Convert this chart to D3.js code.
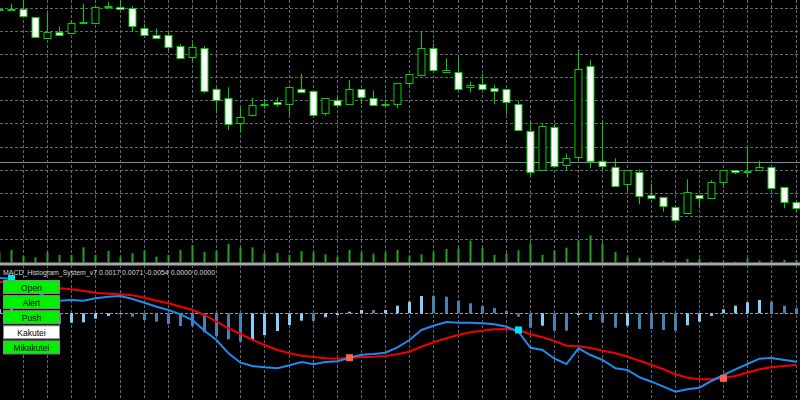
<!DOCTYPE html>
<html><head><meta charset="utf-8">
<script src="https://cdn.jsdelivr.net/npm/d3@7"></script>
<style>html,body{margin:0;padding:0;background:#000;overflow:hidden}</style>
</head><body><svg id="c" width="800" height="400"></svg>
<script>
// ---- data (bar index -1 .. 65) ----
const barIndex = d3.range(-1, 66);
const open = [1.31540,1.31540,1.31543,1.31457,1.31243,1.31307,1.31297,1.31410,1.31407,1.31570,1.31563,1.31547,1.31347,1.31283,1.31277,1.31167,1.31060,1.31153,1.30740,1.30647,1.30403,1.30477,1.30590,1.30607,1.30583,1.30740,1.30717,1.30497,1.30633,1.30587,1.30737,1.30653,1.30587,1.30587,1.30797,1.30873,1.31147,1.30907,1.30913,1.30757,1.30787,1.30753,1.30740,1.30590,1.30323,1.29930,1.30365,1.29980,1.30057,1.30970,1.30020,1.29963,1.29787,1.29913,1.29680,1.29657,1.29557,1.29503,1.29683,1.29653,1.29807,1.29930,1.29923,1.29937,1.29963,1.29757,1.29613];
const high = [1.31545,1.31590,1.31640,1.31457,1.31507,1.31363,1.31430,1.31590,1.31575,1.31610,1.31630,1.31570,1.31387,1.31347,1.31303,1.31190,1.31197,1.31170,1.30757,1.30757,1.30557,1.30653,1.30640,1.30657,1.30757,1.30890,1.30717,1.30647,1.30653,1.30830,1.30737,1.30727,1.30637,1.30797,1.30890,1.31307,1.31190,1.31047,1.31057,1.30813,1.30890,1.30780,1.30740,1.30623,1.30413,1.30390,1.30390,1.30097,1.31137,1.31030,1.30423,1.30047,1.29930,1.29937,1.29790,1.29657,1.29557,1.29837,1.29683,1.29830,1.29930,1.29930,1.30157,1.30023,1.29963,1.29757,1.29613];
const low = [1.31530,1.31530,1.31470,1.31257,1.31243,1.31280,1.31297,1.31397,1.31407,1.31540,1.31530,1.31313,1.31273,1.31257,1.31130,1.31043,1.31020,1.30697,1.30497,1.30330,1.30307,1.30477,1.30543,1.30563,1.30480,1.30713,1.30463,1.30473,1.30587,1.30587,1.30590,1.30570,1.30580,1.30547,1.30770,1.30873,1.30903,1.30907,1.30747,1.30703,1.30737,1.30587,1.30487,1.30330,1.29863,1.29930,1.29953,1.29930,1.30030,1.29947,1.29930,1.29777,1.29723,1.29587,1.29647,1.29513,1.29430,1.29503,1.29547,1.29653,1.29773,1.29890,1.29857,1.29937,1.29753,1.29547,1.29513];
const close = [1.31537,1.31537,1.31470,1.31257,1.31307,1.31280,1.31397,1.31408,1.31563,1.31568,1.31543,1.31363,1.31273,1.31257,1.31153,1.31043,1.31157,1.30727,1.30630,1.30390,1.30460,1.30577,1.30587,1.30583,1.30757,1.30713,1.30480,1.30647,1.30587,1.30737,1.30653,1.30580,1.30585,1.30797,1.30890,1.31147,1.30923,1.30930,1.30747,1.30780,1.30737,1.30723,1.30607,1.30330,1.29910,1.30370,1.29973,1.30047,1.30937,1.30023,1.29973,1.29777,1.29930,1.29673,1.29647,1.29567,1.29430,1.29713,1.29657,1.29810,1.29930,1.29913,1.29921,1.29963,1.29753,1.29607,1.29557];
const volume = [1000,1270,670,530,1000,770,770,1530,770,1170,600,930,1200,600,770,1270,1770,1070,1170,1870,1530,1530,930,970,770,1170,1000,830,570,1270,1000,900,1000,1270,670,830,1030,1370,1430,2200,1470,770,930,1230,1930,770,1200,1500,2200,2730,1930,1070,600,470,270,170,170,370,400,100,100,100,430,200,270,270,270];
const gridPrices = [1.31545,1.31314,1.31085,1.30853,1.30623,1.30390,1.30157,1.29928,1.29697,1.29465,1.29235];
const priceLine = 1.30005;

// MACD subwindow (pips)
const macd = [3.53,3.43,2.80,2.20,1.60,1.26,1.33,1.26,1.50,1.66,1.73,1.43,1.06,0.66,0.33,-0.10,-0.67,-1.74,-2.67,-4.00,-4.94,-5.27,-5.40,-5.50,-5.20,-4.87,-5.10,-4.87,-4.80,-4.44,-4.14,-4.07,-3.94,-3.40,-2.67,-1.67,-1.24,-0.87,-0.94,-0.94,-1.00,-1.10,-1.34,-1.84,-3.45,-3.67,-4.54,-5.07,-3.50,-4.17,-4.67,-5.50,-5.67,-6.40,-6.84,-7.34,-7.84,-7.60,-7.44,-6.77,-6.17,-5.60,-5.07,-4.54,-4.47,-4.67,-4.84];
const signal = [3.13,3.03,2.88,2.73,2.60,2.50,2.40,2.23,2.06,1.96,1.90,1.80,1.56,1.26,1.00,0.66,0.33,-0.17,-0.84,-1.50,-2.07,-2.67,-3.17,-3.67,-4.00,-4.24,-4.37,-4.50,-4.54,-4.47,-4.37,-4.34,-4.27,-4.10,-3.84,-3.34,-2.90,-2.50,-2.17,-1.90,-1.74,-1.60,-1.57,-1.67,-2.10,-2.40,-2.77,-3.24,-3.30,-3.47,-3.74,-4.00,-4.34,-4.74,-5.17,-5.60,-6.10,-6.44,-6.60,-6.60,-6.47,-6.27,-5.94,-5.60,-5.40,-5.27,-5.17];
const hist = [0.4,0.4,0.05,-0.3,-0.77,-1.1,-0.94,-0.90,-0.54,-0.27,-0.10,-0.34,-0.67,-0.84,-1.07,-1.27,-1.27,-1.90,-2.27,-2.60,-2.84,-2.67,-2.17,-1.77,-1.17,-0.74,-0.77,-0.40,-0.17,0.16,0.33,0.33,0.33,0.76,1.16,1.73,1.73,1.66,1.26,1.00,0.73,0.53,0.23,-0.34,-1.44,-1.24,-1.74,-1.74,-0.17,-0.67,-0.94,-1.44,-1.24,-1.57,-1.57,-1.67,-1.74,-1.20,-0.84,-0.27,0.40,0.76,1.10,1.33,1.16,0.76,0.50];
const histRising = [1,1,0,0,0,0, 1,1,1,1,1, 0,0,0,0,0,0,0,0,0,0, 1,1,1,1,1, 0, 1,1,1,1, 0, 1,1,1,1, 0,0,0,0,0,0,0,0,0, 1, 0,0, 1, 0,0,0, 1, 0,0,0,0, 1,1,1,1,1,1,1, 0,0,0];
const markerIndex = [0, 28, 42, 59];
const markerValue = [3.48, -4.44, -1.67, -6.50];
const markerKind = ["sell", "buy", "sell", "buy"];
const buttonLabels = ["Open", "Alert", "Push", "Kakutei", "Mikakutei"];
const buttonOn = [true, true, true, false, true];
const titleText = "MACD_Histogram_System_v7 0.0017 0.0071 -0.0054 0.0000 0.0000";

// ---- drawing ----
const svg = d3.select("#c");
svg.append("rect").attr("width", 800).attr("height", 400).attr("fill", "#000");

const x = d3.scaleLinear().domain([0, 65]).range([11, 795.6]);
const px = i => Math.round(x(i));
const yP = d3.scaleLinear().domain([1.3163, 1.29004]).range([0, 262.6]);
const yV = d3.scaleLinear().domain([0, 10000]).range([262.6, 162.6]);
const yM = d3.scaleLinear().domain([4.83, -8.67]).range([265, 400]);

const defs = svg.append("defs");
defs.append("clipPath").attr("id", "mainClip").append("rect").attr("x", 0).attr("y", 0).attr("width", 800).attr("height", 262.5);
defs.append("clipPath").attr("id", "subClip").append("rect").attr("x", 0).attr("y", 265.5).attr("width", 800).attr("height", 135);

const gridColor = "#5f6b78";
const main = svg.append("g").attr("clip-path", "url(#mainClip)");
const sub = svg.append("g").attr("clip-path", "url(#subClip)");

// grid main
const oddBars = barIndex.filter(i => i > 0 && i % 2 === 1);
main.selectAll("line.hg").data(gridPrices).join("line")
  .attr("x1", 0).attr("x2", 800)
  .attr("y1", d => Math.floor(yP(d)) + 0.5).attr("y2", d => Math.floor(yP(d)) + 0.5)
  .attr("stroke", gridColor).attr("stroke-dasharray", "3,2");
main.selectAll("line.vg").data(oddBars).join("line")
  .attr("x1", i => px(i) + 0.5).attr("x2", i => px(i) + 0.5)
  .attr("y1", 0).attr("y2", 263)
  .attr("stroke", gridColor).attr("stroke-dasharray", "3,2");

// price line
main.append("line").attr("x1", 0).attr("x2", 800)
  .attr("y1", Math.floor(yP(priceLine)) + 0.5).attr("y2", Math.floor(yP(priceLine)) + 0.5)
  .attr("stroke", "#7d8a98").attr("stroke-width", 1);

// volumes
main.selectAll("rect.vol").data(barIndex).join("rect")
  .attr("x", i => px(i) - 0.5).attr("width", 2)
  .attr("y", (i, k) => yV(volume[k])).attr("height", (i, k) => 262.6 - yV(volume[k]))
  .attr("fill", "#1fa51f");

// candles
const candleGreen = "#00d200";
const cg = main.selectAll("g.c").data(barIndex).join("g");
cg.append("line")
  .attr("x1", i => px(i) + 0.5).attr("x2", i => px(i) + 0.5)
  .attr("y1", (i, k) => yP(high[k])).attr("y2", (i, k) => yP(low[k]))
  .attr("stroke", candleGreen).attr("stroke-width", 1);
cg.append("rect")
  .attr("x", i => px(i) - 3).attr("width", 7)
  .attr("y", (i, k) => Math.round(Math.min(yP(open[k]), yP(close[k]))) + 0.5)
  .attr("height", (i, k) => Math.max(1, Math.round(Math.abs(yP(open[k]) - yP(close[k])))))
  .attr("fill", (i, k) => close[k] < open[k] ? "#ffffff" : "#000000")
  .attr("stroke", candleGreen).attr("stroke-width", 1);

// separator
svg.append("rect").attr("x", 0).attr("y", 262.5).attr("width", 800).attr("height", 3).attr("fill", "#a8a8a8");

// sub window grid
sub.selectAll("line.vg").data(oddBars).join("line")
  .attr("x1", i => px(i) + 0.5).attr("x2", i => px(i) + 0.5)
  .attr("y1", 265).attr("y2", 400)
  .attr("stroke", gridColor).attr("stroke-dasharray", "3,2");
sub.append("line").attr("x1", 0).attr("x2", 800)
  .attr("y1", Math.floor(yM(0)) + 0.5).attr("y2", Math.floor(yM(0)) + 0.5)
  .attr("stroke", "#9a9a9a").attr("stroke-dasharray", "3,2");

// histogram
sub.selectAll("rect.h").data(barIndex).join("rect")
  .attr("x", i => px(i) - 1).attr("width", 3)
  .attr("y", (i, k) => Math.min(yM(0), yM(hist[k])))
  .attr("height", (i, k) => Math.abs(yM(hist[k]) - yM(0)))
  .attr("fill", (i, k) => histRising[k] ? "#87cefa" : "#4682b4");

// lines
const lineGen = arr => d3.line().x(i => px(i) + 0.5).y((i, k) => yM(arr[k]))(barIndex);
sub.append("path").attr("d", lineGen(signal)).attr("fill", "none").attr("stroke", "#f00000").attr("stroke-width", 2);
sub.append("path").attr("d", lineGen(macd)).attr("fill", "none").attr("stroke", "#1e8cf0").attr("stroke-width", 2);

// markers
sub.selectAll("rect.m").data(markerIndex).join("rect")
  .attr("x", i => px(i) - 3).attr("width", 7)
  .attr("y", (i, k) => yM(markerValue[k]) - 3.5).attr("height", 7)
  .attr("fill", (i, k) => markerKind[k] === "sell" ? "#00e5ee" : "#ff6347");

// title
svg.append("text").attr("x", 3).attr("y", 275)
  .attr("font-family", "Liberation Sans, Arial, sans-serif").attr("font-size", 8)
  .attr("textLength", 212).attr("lengthAdjust", "spacingAndGlyphs")
  .attr("fill", "#d8d8d8").text(titleText);

// buttons
const bg = svg.selectAll("g.b").data(buttonLabels).join("g")
  .attr("transform", (d, k) => `translate(3.5, ${280.5 + k * 15.1})`);
bg.append("rect").attr("width", 56).attr("height", 13)
  .attr("fill", (d, k) => buttonOn[k] ? "#00f000" : "#ffffff")
  .attr("stroke", "#8a8a8a").attr("stroke-width", 1);
bg.append("text").attr("x", 28).attr("y", 10)
  .attr("text-anchor", "middle")
  .attr("font-family", "Liberation Sans, Arial, sans-serif").attr("font-size", 8.5)
  .attr("fill", "#000").text(d => d);
</script>
</body></html>
